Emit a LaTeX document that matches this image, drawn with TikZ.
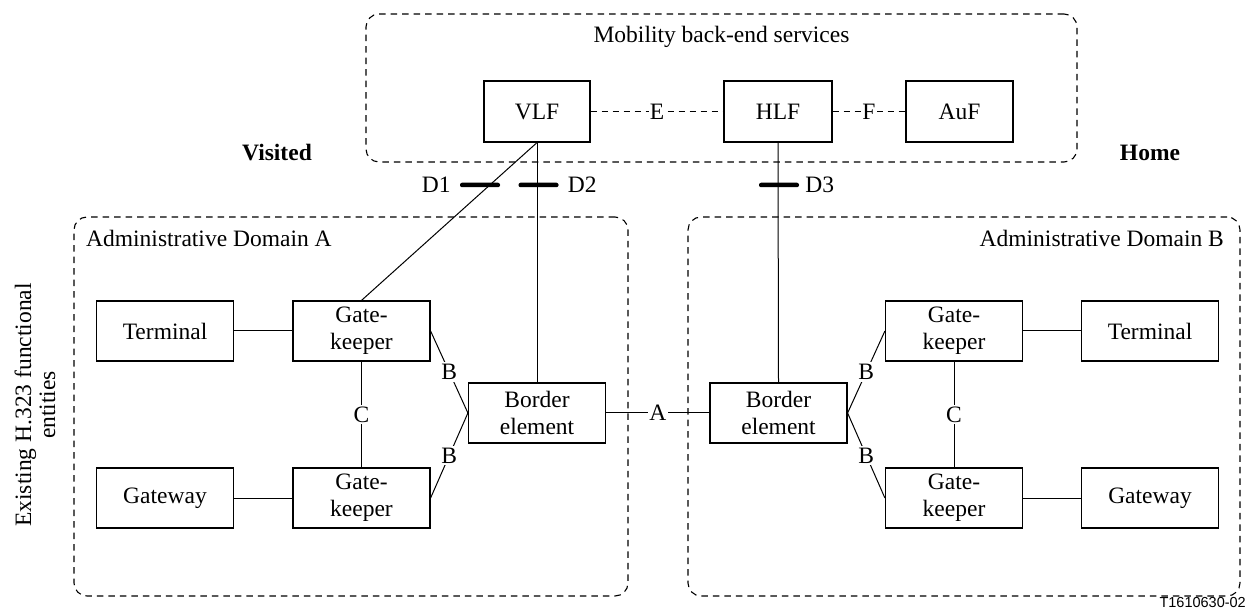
\documentclass[tikz,border=0pt]{standalone}
\usepackage{fontspec}
\setmainfont{Liberation Serif}
\newfontfamily\tagfont{Liberation Sans}
\newcommand\mainsz{\fontsize{23.5}{27}\selectfont}
\begin{document}
\begin{tikzpicture}[x=1pt,y=-1pt,
  fe/.style={draw, line width=1.2pt, minimum width=137pt, minimum height=60pt,
             inner sep=0pt, align=center, font=\mainsz},
  mb/.style={draw, line width=1.2pt, minimum height=61pt, inner sep=0pt, font=\mainsz},
  group/.style={draw, line width=1.1pt, dash pattern=on 6.5pt off 5pt,
                rounded corners=13pt, inner sep=0pt},
  link/.style={draw, line width=1pt},
  dlink/.style={draw, line width=1pt, dash pattern=on 6pt off 5pt},
  lbl/.style={fill=white, inner sep=2pt, font=\mainsz},
  txt/.style={inner sep=0pt, font=\mainsz},
  dbar/.style={fill=black, minimum height=4.5pt, inner sep=0pt, rounded corners=2pt}]
\useasboundingbox (0,0) rectangle (1248,609);

% dashed groupings
\node[group, minimum width=711pt, minimum height=148pt] (mbs) at (721.5,88) {};
\node[group, minimum width=554pt, minimum height=379pt] (domA) at (351,406.5) {};
\node[group, minimum width=552pt, minimum height=379pt] (domB) at (964,406.5) {};

\node[txt] (mbstitle) at (721.5,37) {Mobility back-end services};
\node[txt, anchor=base west] (domAtitle) at (86,247) {Administrative Domain A};
\node[txt, anchor=base east] (domBtitle) at (1224,247) {Administrative Domain B};
\node[txt, font=\mainsz\bfseries] (visited) at (277,153) {Visited};
\node[txt, font=\mainsz\bfseries] (home) at (1150,153) {Home};
\node[txt, rotate=90, align=center, font=\fontsize{23.5}{24}\selectfont] (existing) at (35,405)
  {Existing H.323 functional\\entities};
\node[inner sep=0pt, anchor=base east, font=\tagfont\fontsize{14.5}{15}\selectfont] (tag) at (1246,607.5) {T1610630-02};

% mobility back-end functions
\node[mb, minimum width=106pt] (vlf) at (537,111.5) {VLF};
\node[mb, minimum width=108pt] (hlf) at (778,111.5) {HLF};
\node[mb, minimum width=107pt] (auf) at (959.5,111.5) {AuF};

% domain A
\node[fe] (termA) at (165,331) {Terminal};
\node[fe] (gkA1) at (361.5,331) {Gate-\\keeper};
\node[fe] (gwA) at (165,498) {Gateway};
\node[fe] (gkA2) at (361.5,498) {Gate-\\keeper};
\node[fe] (beA) at (537,413) {Border\\element};

% domain B
\node[fe] (beB) at (778.5,413) {Border\\element};
\node[fe] (gkB1) at (954,331) {Gate-\\keeper};
\node[fe] (gkB2) at (954,498) {Gate-\\keeper};
\node[fe] (termB) at (1150,331) {Terminal};
\node[fe] (gwB) at (1150,498) {Gateway};

% interfaces
\draw[dlink] (vlf) -- node[lbl, inner sep=1pt] {E} (hlf);
\draw[dlink] (hlf) -- node[lbl, inner sep=1pt] {F} (auf);
\draw[link] (vlf.south) -- (gkA1.north);
\draw[link] (vlf.south) -- (beA.north);
\draw[link] (hlf.south) -- (beB.north);

\draw[link] (termA) -- (gkA1);
\draw[link] (gwA) -- (gkA2);
\draw[link] (gkA1) -- node[lbl] {C} (gkA2);
\draw[link] (gkA1.east) -- node[lbl] {B} (beA.west);
\draw[link] (gkA2.east) -- node[lbl] {B} (beA.west);
\draw[link] (beA) -- node[lbl, inner sep=1.5pt] {A} (beB);
\draw[link] (beB.east) -- node[lbl] {B} (gkB1.west);
\draw[link] (beB.east) -- node[lbl] {B} (gkB2.west);
\draw[link] (gkB1) -- node[lbl] {C} (gkB2);
\draw[link] (gkB1) -- (termB);
\draw[link] (gkB2) -- (gwB);

% D reference point markers
\node[dbar, minimum width=40pt] (d1) at (480,185) {};
\node[dbar, minimum width=40pt] (d2) at (538.5,185) {};
\node[dbar, minimum width=40pt] (d3) at (779,185) {};
\node[txt, anchor=east] (d1l) at ([xshift=-9pt]d1.west) {D1};
\node[txt, anchor=west] (d2l) at ([xshift=9pt]d2.east) {D2};
\node[txt, anchor=west] (d3l) at ([xshift=6pt]d3.east) {D3};
\end{tikzpicture}
\end{document}
